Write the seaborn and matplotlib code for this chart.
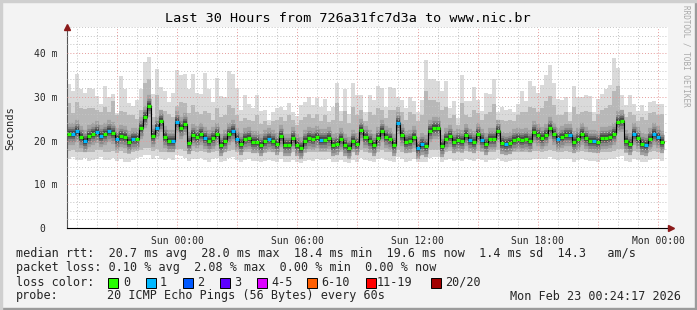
import numpy as np
import pandas as pd
import matplotlib
matplotlib.use("Agg")
import matplotlib.pyplot as plt
import matplotlib.dates as mdates
from matplotlib.ticker import MultipleLocator, FuncFormatter
from matplotlib.patches import Rectangle
import seaborn as sns

sns.set_theme(style="white")
plt.rcParams["font.family"] = ["DejaVu Sans Mono"]

W, H = 697, 310

# ---------------- data ----------------
start_time = "2026-02-21 18:30"
step = "12min"

median_ms = [
    21.4, 21.6, 22.1, 20.8, 20.0, 21.0, 21.6, 21.9, 21.0, 21.4,
    22.1, 21.8, 20.3, 21.1, 20.8, 19.6, 20.4, 20.4, 22.9, 25.5,
    28.0, 21.0, 22.9, 24.4, 20.9, 19.8, 19.9, 24.2, 23.0, 23.7,
    19.5, 21.2, 20.9, 21.6, 20.5, 19.8, 20.5, 21.6, 19.1, 19.9,
    21.4, 22.3, 20.4, 19.2, 20.3, 20.5, 19.6, 19.7, 19.0, 19.9,
    20.4, 19.9, 19.3, 21.1, 19.0, 19.0, 20.5, 19.0, 18.4, 19.8,
    20.5, 20.3, 20.9, 20.1, 20.1, 20.6, 19.1, 19.3, 20.4, 19.1,
    18.3, 20.0, 19.2, 22.5, 20.9, 19.8, 19.1, 20.6, 22.2, 20.8,
    20.3, 19.0, 24.1, 21.2, 19.6, 19.9, 20.9, 18.4, 19.3, 18.7,
    22.2, 22.9, 22.9, 18.7, 20.3, 21.0, 19.6, 20.1, 19.9, 21.2,
    20.1, 19.6, 21.4, 20.1, 19.3, 20.3, 20.3, 22.2, 19.5, 19.3,
    19.4, 20.2, 20.3, 20.2, 20.3, 20.0, 21.9, 21.3, 20.6, 21.2,
    23.0, 21.6, 20.3, 20.9, 21.2, 21.2, 19.6, 20.3, 21.6, 20.7,
    20.0, 19.8, 19.6, 20.6, 20.5, 20.8, 21.4, 24.2, 24.5, 19.8,
    19.3, 21.6, 20.5, 19.3, 19.1, 20.4, 21.6, 20.9, 19.6,
]

loss_pings = [
    0, 1, 1, 0, 1, 0, 0, 1, 1, 0,
    1, 0, 1, 0, 0, 0, 1, 0, 0, 0,
    0, 0, 1, 0, 0, 0, 1, 1, 0, 0,
    0, 0, 0, 0, 1, 0, 0, 0, 0, 0,
    0, 1, 1, 0, 0, 0, 0, 0, 0, 0,
    1, 0, 0, 0, 0, 0, 0, 0, 0, 0,
    0, 0, 0, 1, 0, 0, 0, 0, 0, 0,
    0, 0, 0, 0, 0, 0, 0, 0, 0, 0,
    0, 0, 1, 0, 0, 0, 0, 1, 1, 0,
    0, 0, 0, 0, 0, 0, 0, 0, 0, 0,
    1, 0, 0, 1, 0, 0, 0, 0, 0, 1,
    0, 0, 0, 0, 0, 0, 0, 0, 0, 0,
    0, 0, 1, 0, 0, 1, 0, 0, 0, 0,
    0, 1, 0, 0, 0, 0, 0, 0, 0, 0,
    0, 1, 0, 0, 1, 0, 1, 1, 0,
]

smoke_max = [
    33.0, 31.4, 35.3, 31.7, 30.9, 32.0, 31.8, 30.2, 28.4, 32.6,
    30.0, 30.7, 26.3, 34.9, 31.7, 28.7, 27.9, 29.4, 31.7, 37.9,
    39.2, 30.7, 36.5, 32.3, 31.4, 28.8, 30.9, 36.2, 35.0, 35.3,
    31.7, 35.2, 30.9, 30.7, 35.5, 31.7, 28.8, 34.3, 30.1, 29.9,
    36.0, 35.2, 32.0, 27.1, 30.5, 28.4, 27.5, 30.4, 26.8, 26.9,
    24.7, 26.5, 27.5, 27.6, 27.1, 28.6, 26.5, 25.7, 28.2, 28.8,
    29.9, 28.2, 29.7, 27.8, 29.6, 26.8, 27.6, 33.2, 26.8, 31.7,
    26.1, 33.2, 30.5, 30.4, 26.5, 30.4, 29.4, 32.6, 32.0, 27.8,
    32.2, 32.0, 29.9, 29.4, 27.4, 29.9, 29.1, 26.5, 29.4, 38.5,
    34.2, 34.2, 33.7, 31.4, 33.7, 27.4, 29.1, 25.2, 35.1, 29.1,
    29.0, 32.3, 29.4, 26.8, 30.9, 30.7, 34.2, 26.5, 27.6, 27.1,
    27.3, 26.5, 28.4, 31.3, 29.1, 33.7, 32.6, 30.9, 32.8, 35.1,
    37.2, 33.2, 29.6, 29.3, 29.9, 26.5, 32.6, 29.9, 29.9, 30.5,
    30.1, 26.5, 29.6, 30.7, 31.7, 32.8, 38.9, 36.6, 30.4, 28.2,
    30.4, 28.4, 26.8, 28.2, 26.8, 28.8, 29.0, 28.4, 28.4,
]

smoke_upper = [
    28.6, 26.3, 28.8, 27.4, 27.3, 27.4, 27.4, 27.0, 26.5, 27.8,
    26.5, 29.0, 25.9, 26.8, 26.5, 25.9, 25.8, 25.0, 27.1, 33.2,
    34.0, 25.5, 30.4, 26.8, 26.8, 26.1, 25.5, 27.9, 28.9, 28.5,
    26.3, 28.2, 26.5, 26.1, 26.8, 26.3, 24.8, 27.4, 25.5, 25.8,
    28.2, 27.4, 25.9, 24.4, 25.2, 24.8, 24.4, 25.8, 23.8, 24.5,
    23.6, 24.4, 24.8, 25.5, 24.4, 25.9, 24.8, 23.6, 24.8, 25.5,
    26.1, 25.2, 26.1, 24.4, 25.9, 24.2, 24.8, 28.6, 24.5, 26.7,
    24.0, 27.8, 25.9, 27.1, 24.4, 26.5, 25.9, 27.4, 27.1, 25.2,
    27.1, 27.1, 27.8, 26.5, 24.8, 26.5, 26.1, 24.4, 25.9, 31.3,
    29.4, 29.4, 28.8, 27.1, 27.8, 25.2, 25.9, 23.6, 28.6, 25.9,
    25.5, 27.1, 26.3, 24.8, 26.1, 26.5, 28.4, 24.4, 24.8, 24.5,
    24.8, 24.4, 25.9, 26.5, 26.5, 27.6, 27.4, 26.5, 27.4, 29.0,
    30.1, 28.2, 25.9, 25.9, 26.5, 24.4, 27.8, 26.1, 26.5, 26.7,
    26.5, 24.4, 26.1, 27.1, 27.4, 28.2, 31.3, 32.4, 27.1, 25.5,
    26.5, 25.9, 24.5, 25.5, 24.8, 26.3, 26.5, 25.9, 26.1,
]

smoke_lower = [
    17.6, 17.8, 17.4, 17.5, 17.7, 17.3, 17.5, 17.8, 17.9, 17.4,
    17.4, 17.7, 17.2, 17.6, 17.1, 17.0, 17.3, 17.6, 17.9, 18.4,
    18.3, 17.6, 18.0, 17.5, 17.4, 17.6, 17.3, 18.1, 18.0, 17.7,
    17.2, 17.6, 17.5, 17.7, 17.3, 17.2, 17.5, 17.6, 17.0, 17.3,
    17.7, 17.8, 17.4, 17.1, 17.3, 17.4, 17.2, 17.3, 17.0, 17.2,
    17.4, 17.3, 17.1, 17.5, 17.0, 17.1, 17.4, 17.0, 16.8, 17.2,
    17.4, 17.3, 17.5, 17.3, 17.4, 17.5, 17.0, 17.1, 17.4, 17.1,
    16.9, 17.3, 17.1, 17.8, 17.4, 17.2, 17.0, 17.5, 17.8, 17.4,
    17.3, 17.0, 17.9, 17.5, 17.1, 17.2, 17.5, 16.9, 17.1, 17.0,
    17.8, 17.9, 17.9, 17.0, 17.4, 17.6, 17.2, 17.3, 17.2, 17.6,
    17.3, 17.2, 17.6, 17.3, 17.1, 17.4, 17.4, 17.8, 17.2, 17.1,
    17.2, 17.4, 17.4, 17.3, 17.4, 17.3, 17.7, 17.6, 17.5, 17.6,
    17.9, 17.6, 17.3, 17.5, 17.6, 17.5, 17.1, 17.3, 17.6, 17.4,
    17.3, 17.2, 17.1, 17.4, 17.4, 17.5, 17.6, 18.0, 18.1, 17.2,
    17.1, 17.6, 17.4, 17.1, 17.0, 17.4, 17.6, 17.5, 17.2,
]

smoke_min = [
    15.8, 16.2, 15.5, 15.6, 16.0, 15.4, 15.6, 15.9, 16.3, 15.6,
    15.5, 16.1, 15.3, 15.8, 15.2, 15.0, 15.5, 16.0, 16.3, 16.8,
    16.7, 15.8, 16.4, 15.7, 15.6, 16.0, 15.5, 16.6, 16.5, 16.0,
    15.3, 15.9, 15.7, 16.1, 15.5, 15.2, 15.8, 16.0, 15.1, 15.4,
    16.0, 16.2, 15.6, 15.2, 15.5, 15.7, 15.3, 15.4, 15.0, 15.3,
    15.6, 15.4, 15.2, 15.8, 15.1, 15.2, 15.6, 15.0, 14.9, 15.3,
    15.6, 15.4, 15.8, 15.5, 15.6, 15.7, 15.1, 15.2, 15.6, 15.2,
    14.9, 15.5, 15.2, 16.0, 15.6, 15.3, 15.1, 15.7, 16.0, 15.6,
    15.4, 15.1, 16.2, 15.7, 15.2, 15.4, 15.7, 15.0, 15.2, 15.1,
    16.1, 16.2, 16.2, 15.1, 15.6, 15.8, 15.3, 15.5, 15.3, 15.8,
    15.5, 15.3, 15.8, 15.5, 15.2, 15.6, 15.6, 16.0, 15.3, 15.2,
    15.4, 15.6, 15.6, 15.5, 15.6, 15.5, 15.9, 15.8, 15.7, 15.8,
    16.2, 15.8, 15.5, 15.7, 15.8, 15.7, 15.2, 15.5, 15.8, 15.6,
    15.4, 15.3, 15.2, 15.6, 15.6, 15.7, 15.8, 16.3, 16.4, 15.3,
    15.2, 15.8, 15.6, 15.2, 15.1, 15.6, 15.8, 15.7, 15.3,
]

loss_labels = ["0", "1", "2", "3", "4-5", "6-10", "11-19", "20/20"]
loss_colors = ["#26ff00", "#00b8ff", "#0059ff", "#5e00ff",
               "#dd00ff", "#ff5e00", "#ff0000", "#a10000"]

title = "Last 30 Hours from 726a31fc7d3a to www.nic.br"
legend_rtt = "median rtt:  20.7 ms avg  28.0 ms max  18.4 ms min  19.6 ms now  1.4 ms sd  14.3   am/s"
legend_loss = "packet loss: 0.10 % avg  2.08 % max  0.00 % min  0.00 % now"
probe_text = "20 ICMP Echo Pings (56 Bytes) every 60s"
stamp = "Mon Feb 23 00:24:17 2026"

# ---------------- build ----------------
times = pd.date_range(start_time, periods=len(median_ms), freq=step)
edges = times.append(pd.DatetimeIndex([times[-1] + pd.Timedelta(step)]))
xe = mdates.date2num(edges.to_pydatetime())

def ext(a):
    a = list(a)
    return np.array(a + [a[-1]])

df = pd.DataFrame({"t": xe, "median": ext(median_ms)})

fig = plt.figure(figsize=(W / 100, H / 100), dpi=100, facecolor="#f3f3f3")
fig.patches.append(Rectangle((0, 0), 1, 2 / H, transform=fig.transFigure, color="#9b9b9b", zorder=0))
fig.patches.append(Rectangle((1 - 2 / W, 0), 2 / W, 1, transform=fig.transFigure, color="#9b9b9b", zorder=0))
fig.patches.append(Rectangle((0, 1 - 2 / H), 1, 2 / H, transform=fig.transFigure, color="#cfcfcf", zorder=0))
fig.patches.append(Rectangle((0, 0), 2 / W, 1, transform=fig.transFigure, color="#cfcfcf", zorder=0))

ax = fig.add_axes([67 / W, (H - 228) / H, 601 / W, 201 / H])
ax.set_facecolor("white")

# smoke: outer range, inner range, then per-step dark core around the median
ax.fill_between(xe, ext(smoke_min), ext(smoke_max), step="post", color="#dadada", lw=0, zorder=1)
ax.fill_between(xe, ext(smoke_lower), ext(smoke_upper), step="post", color="#b8b8b8", lw=0, zorder=1.1)
core_styles = [(16.0, "#a2a2a2"), (11.0, "#888888"), (7.0, "#666666"), (4.2, "#474747"), (2.2, "#2e2e2e")]
for lw_, col in core_styles:
    ax.hlines(median_ms, xe[:-1], xe[1:], colors=col, lw=lw_, zorder=1.2)

# median line with loss colours
sns.lineplot(data=df, x="t", y="median", drawstyle="steps-post", color="black",
             lw=0.8, ax=ax, zorder=4, legend=False)
seg_colors = [loss_colors[min(l, 7)] for l in loss_pings]
ax.hlines(median_ms, xe[:-1], xe[1:], colors=seg_colors, lw=2.3, zorder=5)

# axes
x0 = mdates.date2num(pd.Timestamp("2026-02-21 18:30"))
x1 = mdates.date2num(pd.Timestamp("2026-02-23 00:30"))
ax.set_xlim(x0, x1)
ax.set_ylim(0, 46)

ax.xaxis.set_major_locator(mdates.HourLocator(byhour=range(0, 24, 3)))
ax.xaxis.set_minor_locator(mdates.HourLocator(interval=1))
def xfmt(v, pos):
    d = mdates.num2date(v)
    return d.strftime("%a %H:%M") if d.hour % 6 == 0 else ""
ax.xaxis.set_major_formatter(FuncFormatter(xfmt))
ax.yaxis.set_major_locator(MultipleLocator(10))
ax.yaxis.set_minor_locator(MultipleLocator(2))
ax.yaxis.set_major_formatter(FuncFormatter(lambda v, p: "0  " if v == 0 else f"{v:.0f} m"))

ax.set_axisbelow(False)
ax.grid(which="minor", color="#c4c4c4", linestyle=(0, (1, 2)), lw=0.7)
ax.grid(which="major", color="#e59a9a", linestyle=(0, (1, 2)), lw=0.7)

ax.tick_params(axis="both", which="major", labelsize=7.0, length=2, width=0.6, color="#444444", pad=4)
ax.tick_params(axis="both", which="minor", length=1.5, width=0.5, color="#c08080")
ax.tick_params(axis="y", pad=5)
for s in ["top", "right"]:
    ax.spines[s].set_visible(False)
ax.spines["left"].set_color("#555555")
ax.spines["left"].set_linewidth(0.8)
ax.spines["bottom"].set_color("#000000")
ax.spines["bottom"].set_linewidth(0.8)
ax.set_xlabel("")
ax.set_ylabel("")

ax.plot([0], [1.0], marker="^", color="#8b1a1a", ms=4, transform=ax.transAxes, clip_on=False, zorder=6)
ax.plot([604 / 601], [0], marker=">", color="#8b1a1a", ms=4, transform=ax.transAxes, clip_on=False, zorder=6)
ax.plot([1, 604 / 601], [0, 0], color="black", lw=0.8, transform=ax.transAxes, clip_on=False)

def ftxt(x, y, s, **kw):
    fig.text(x / W, 1 - y / H, s, **kw)

ftxt(348, 18, title, ha="center", va="center", fontsize=9.7, color="black")
ftxt(10, 128, "Seconds", ha="center", va="center", rotation=90, fontsize=7.5)
ftxt(686, 5, "RRDTOOL / TOBI OETIKER", ha="center", va="top", rotation=270,
     fontsize=5.5, color="#a8a8a8")

fs = 8.5
ftxt(16, 254, legend_rtt, ha="left", va="center", fontsize=fs)
ftxt(16, 268, legend_loss, ha="left", va="center", fontsize=fs)
ftxt(16, 282, "loss color:", ha="left", va="center", fontsize=fs)
ftxt(16, 296, "probe:", ha="left", va="center", fontsize=fs)
ftxt(107, 296, probe_text, ha="left", va="center", fontsize=fs)
ftxt(681, 296, stamp, ha="right", va="center", fontsize=fs)

box_x = [108, 145.5, 183, 219.5, 257, 307, 365.5, 430.5]
txt_x = [123, 160, 197.5, 234, 271, 321, 376.5, 445]
for bx, tx, lab, col in zip(box_x, txt_x, loss_labels, loss_colors):
    fig.patches.append(Rectangle((bx / W, 1 - 288 / H), 10 / W, 10 / H, transform=fig.transFigure,
                                 facecolor=col, edgecolor="black", lw=0.7, zorder=3))
    ftxt(tx, 282, lab, ha="left", va="center", fontsize=fs)

fig.savefig("out.png", dpi=100, facecolor=fig.get_facecolor())
